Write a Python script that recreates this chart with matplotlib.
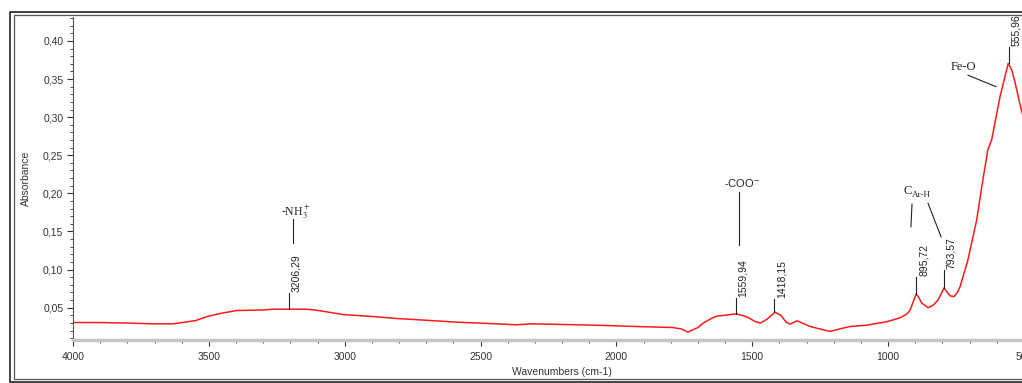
import matplotlib.pyplot as plt
from matplotlib.lines import Line2D
from matplotlib.ticker import MultipleLocator, FuncFormatter

# --- Datos del espectro ---
wavenumbers = [4000, 3900, 3800, 3700, 3632, 3550, 3500, 3450, 3396, 3300,
               3264, 3139, 3100, 3006, 2900, 2807, 2700, 2587, 2450, 2366,
               2318, 2200, 2035, 1900, 1792, 1760, 1737, 1700, 1681, 1650,
               1630, 1600, 1560, 1520, 1490, 1471, 1445, 1416, 1395, 1375,
               1361, 1335, 1310, 1287, 1250, 1214, 1180, 1140, 1080, 1030,
               1000, 956, 930, 919, 905, 897, 890, 876, 853, 835,
               816, 805, 794, 782, 772, 757, 745, 735, 706, 674,
               651, 633, 619, 607, 588, 570, 558, 545, 533, 521,
               508, 500]
absorbance = [0.0305, 0.0305, 0.0298, 0.0288, 0.0288, 0.0330, 0.0390, 0.0430, 0.0463, 0.0470,
              0.0480, 0.0480, 0.0465, 0.0410, 0.0385, 0.0358, 0.0335, 0.0310, 0.0290, 0.0275,
              0.0288, 0.0280, 0.0266, 0.0250, 0.0240, 0.0220, 0.0180, 0.0240, 0.0297, 0.0360,
              0.0390, 0.0400, 0.0420, 0.0380, 0.0320, 0.0297, 0.0350, 0.0441, 0.0400, 0.0310,
              0.0284, 0.0328, 0.0290, 0.0253, 0.0220, 0.0188, 0.0220, 0.0253, 0.0270, 0.0300,
              0.0320, 0.0367, 0.0420, 0.0470, 0.0600, 0.0680, 0.0650, 0.0560, 0.0500, 0.0530,
              0.0600, 0.0680, 0.0760, 0.0700, 0.0655, 0.0646, 0.0700, 0.0777, 0.1130, 0.1650,
              0.2180, 0.2570, 0.2700, 0.2920, 0.3270, 0.3530, 0.3705, 0.3620, 0.3460, 0.3270,
              0.3070, 0.2980]

# picos marcados: (etiqueta, numero de onda, absorbancia del pico, extremo de la marca)
peak_labels = ["3206,29", "1559,94", "1418,15", "895,72", "793,57", "555,96"]
peak_pos = [3206.29, 1559.94, 1418.15, 895.72, 793.57, 555.96]
peak_abs = [0.0485, 0.0420, 0.0441, 0.0680, 0.0760, 0.3705]
peak_top = [0.0693, 0.0627, 0.0614, 0.0903, 0.0995, 0.3920]

plt.rcParams["font.family"] = ["Liberation Sans", "DejaVu Sans"]
plt.rcParams["mathtext.fontset"] = "stix"

W, H = 1022, 383
fig = plt.figure(figsize=(W / 100, H / 100), dpi=100)

# el eje X sigue mas alla del borde derecho (la imagen original esta recortada)
px_per_unit = 0.2717
left_px, bottom_px, top_px = 73, 340, 17
ax = fig.add_axes([left_px / W, (H - bottom_px) / H,
                   3600 * px_per_unit / W, (bottom_px - top_px) / H])

ax.plot(wavenumbers, absorbance, color="#ff1a1a", lw=1.1, zorder=3)

ax.set_xlim(4000, 400)
ax.set_ylim(0.0076, 0.4314)

ax.xaxis.set_major_locator(MultipleLocator(500))
ax.xaxis.set_minor_locator(MultipleLocator(100))
ax.yaxis.set_major_locator(MultipleLocator(0.05))
ax.yaxis.set_minor_locator(MultipleLocator(0.01))
ax.xaxis.set_major_formatter(FuncFormatter(lambda v, p: f"{v:.0f}"))
ax.yaxis.set_major_formatter(FuncFormatter(lambda v, p: f"{v:.2f}".replace(".", ",")))

for s in ["top", "right"]:
    ax.spines[s].set_visible(False)
ax.spines["left"].set_color("#555555")
ax.spines["left"].set_linewidth(0.8)
ax.spines["bottom"].set_color("#c4c4c4")
ax.spines["bottom"].set_linewidth(2.5)

ax.tick_params(axis="both", which="major", labelsize=7.5, colors="#333333",
               length=4, width=0.8, pad=3)
ax.tick_params(axis="both", which="minor", length=2.5, width=0.7, colors="#444444")
ax.tick_params(axis="x", pad=5)

ax.set_xlabel("Wavenumbers (cm-1)", fontsize=7.5, color="#333333", labelpad=3)
ax.set_ylabel("Absorbance", fontsize=7.5, color="#333333", labelpad=9)

# marcas y etiquetas de los picos
for lab, x, y0, y1 in zip(peak_labels, peak_pos, peak_abs, peak_top):
    ax.plot([x, x], [y0, y1], color="#222222", lw=0.8, zorder=4)
    ax.annotate(lab, xy=(x, y1), xytext=(1.5, 1), textcoords="offset points",
                rotation=90, ha="left", va="bottom", fontsize=7.5,
                color="#222222", annotation_clip=False)

# grupos funcionales
serif = ["Liberation Serif", "DejaVu Serif"]
ax.text(3179, 0.176, "-NH$_3^+$", family=serif, fontsize=8.5, ha="center",
        va="center", color="#222222")
ax.plot([3191, 3191], [0.135, 0.166], color="#222222", lw=0.8)

ax.text(1538, 0.214, "-COO$^{-}$", fontsize=8, ha="center", va="center",
        color="#222222")
ax.plot([1549, 1549], [0.132, 0.202], color="#222222", lw=0.8)

ax.text(913, 0.203, "C", family=serif, fontsize=9, ha="right", va="center",
        color="#222222")
ax.text(912, 0.198, "Ar-H", family=serif, fontsize=6.5, ha="left", va="center",
        color="#222222")
ax.plot([912, 916], [0.186, 0.156], color="#222222", lw=0.8)
ax.plot([853, 805], [0.187, 0.143], color="#222222", lw=0.8)

ax.text(721, 0.366, "Fe-O", family=serif, fontsize=9, ha="center", va="center",
        color="#222222")
ax.plot([706, 603], [0.355, 0.340], color="#222222", lw=0.8)

# doble marco de la ventana
def frame(x0, y0, y1, color, lw):
    xs = [W + 5, x0, x0, W + 5]
    ys = [y0, y0, y1, y1]
    fig.add_artist(Line2D([x / W for x in xs], [1 - y / H for y in ys],
                          color=color, lw=lw, zorder=10))

frame(9.5, 11.5, 381.5, "#222222", 1.2)
frame(13.5, 15, 378.5, "#555555", 0.9)

plt.savefig("out.png", dpi=100)
